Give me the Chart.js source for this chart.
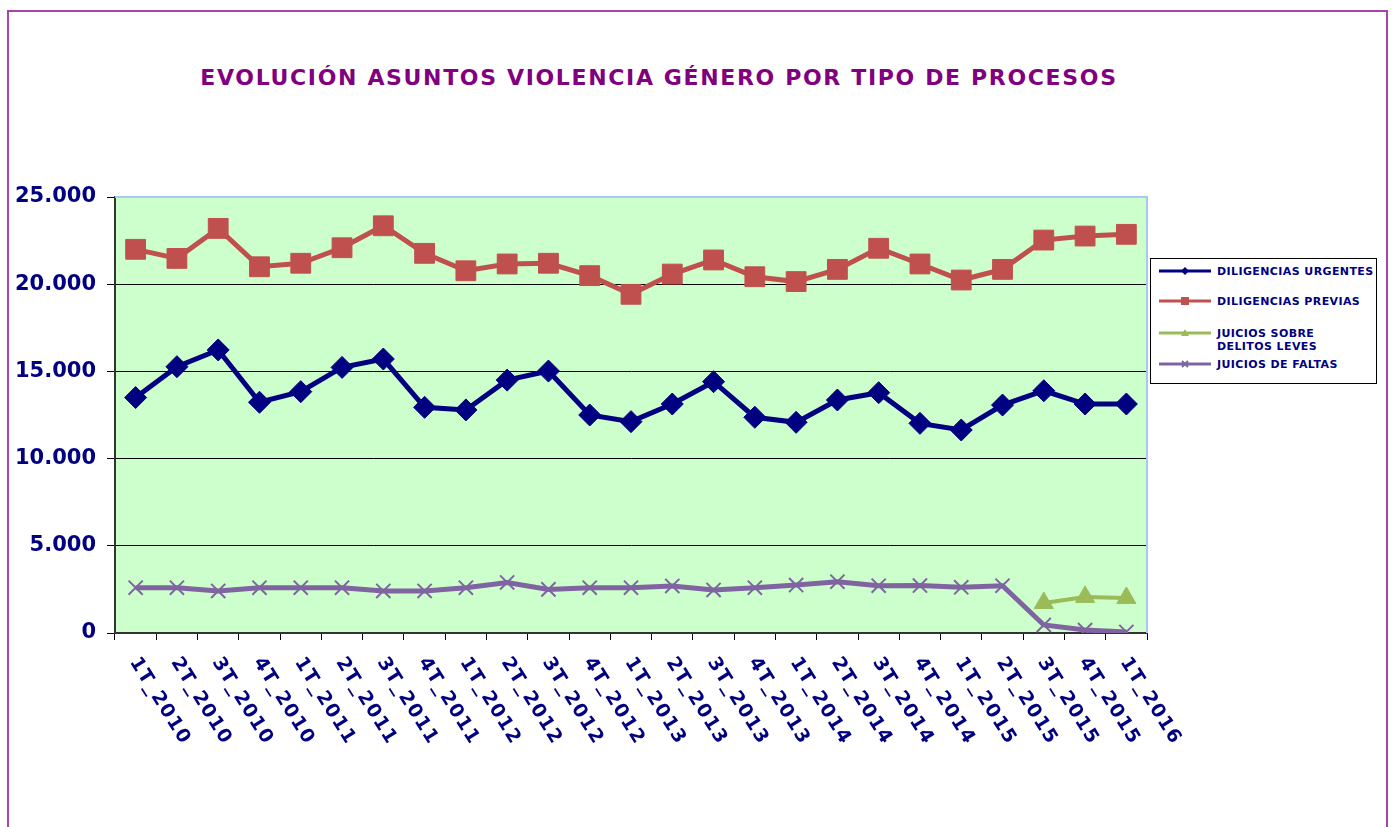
<!DOCTYPE html>
<html lang="es">
<head>
<meta charset="utf-8">
<title>Evolución asuntos violencia género</title>
<script src="https://cdn.jsdelivr.net/npm/chart.js@4.4.1/dist/chart.umd.min.js"></script>
<style>
    html, body { margin: 0; padding: 0; background: #fff; }
    body { width: 1392px; height: 827px; position: relative; overflow: hidden; font-family: 'DejaVu Sans', Verdana, sans-serif; }
    #frame { position: absolute; left: 7px; top: 10px; width: 1377px; height: 830px; border: 2px solid #a845a8; }
    #title { position: absolute; left: 0; width: 1318px; top: 65px; text-align: center; color: #800080; font-weight: bold; font-size: 22px; letter-spacing: 1.65px; }
    #chart { position: absolute; left: 0; top: 0; }
    #legend { position: absolute; left: 1150px; top: 258px; width: 225px; height: 124px; border: 1px solid #000; background: #fff; }
    .item { position: absolute; left: 8px; color: #000080; font-weight: bold; font-size: 11px; letter-spacing: 0.4px; line-height: 13px; }
    .item svg { position: absolute; left: 0; top: 0; }
    .item span { position: absolute; left: 58px; top: 0; white-space: nowrap; }
</style>
</head>
<body>
<div id="frame"></div>
<div id="title">EVOLUCIÓN ASUNTOS VIOLENCIA GÉNERO POR TIPO DE PROCESOS</div>
<canvas id="chart" width="1392" height="827"></canvas>
<div id="legend"></div>

<script>
// --- DATOS ---
const categories = [
    '1T_2010', '2T_2010', '3T_2010', '4T_2010',
    '1T_2011', '2T_2011', '3T_2011', '4T_2011',
    '1T_2012', '2T_2012', '3T_2012', '4T_2012',
    '1T_2013', '2T_2013', '3T_2013', '4T_2013',
    '1T_2014', '2T_2014', '3T_2014', '4T_2014',
    '1T_2015', '2T_2015', '3T_2015', '4T_2015',
    '1T_2016'
];

const diligenciasUrgentes = [
    13500, 15270, 16230, 13230, 13840, 15230, 15710, 12940,
    12790, 14500, 15020, 12500, 12120, 13130, 14410, 12370,
    12080, 13360, 13780, 12020, 11640, 13070, 13890, 13130, 13130
];

const diligenciasPrevias = [
    22000, 21480, 23200, 21000, 21200, 22090, 23350, 21770,
    20770, 21160, 21200, 20490, 19420, 20580, 21390, 20430,
    20150, 20850, 22060, 21160, 20240, 20850, 22530, 22760, 22860
];

const juiciosDelitosLeves = [
    null, null, null, null, null, null, null, null,
    null, null, null, null, null, null, null, null,
    null, null, null, null, null, null, 1720, 2070, 2010
];

const juiciosFaltas = [
    2600, 2600, 2410, 2600, 2600, 2600, 2410, 2410,
    2600, 2900, 2500, 2600, 2600, 2700, 2470, 2600,
    2750, 2940, 2710, 2720, 2620, 2710, 460, 170, 60
];

const yTicks = [0, 5000, 10000, 15000, 20000, 25000];

// --- SERIES ---
const series = [
    { label: 'DILIGENCIAS URGENTES', data: diligenciasUrgentes, color: '#000080', style: 'rectRot', radius: 11, width: 5 },
    { label: 'DILIGENCIAS PREVIAS', data: diligenciasPrevias, color: '#c0504d', style: 'rect', radius: 14, width: 5 },
    { label: 'JUICIOS SOBRE\nDELITOS LEVES', data: juiciosDelitosLeves, color: '#9bbb59', style: 'triangle', radius: 11, width: 4 },
    { label: 'JUICIOS DE FALTAS', data: juiciosFaltas, color: '#8064a2', style: 'crossRot', radius: 10, width: 5 }
];

const fmtMiles = (v) => String(v).replace(/\B(?=(\d{3})+(?!\d))/g, '.');

// fondo del área de trazado + borde superior/derecho
const plotBg = {
    id: 'plotBg',
    beforeDraw(chart) {
        const { ctx, chartArea: a } = chart;
        ctx.save();
        ctx.fillStyle = '#ccffcc';
        ctx.fillRect(a.left, a.top, a.right - a.left, a.bottom - a.top);
        ctx.restore();
    },
    beforeDatasetsDraw(chart) {
        const { ctx, chartArea: a } = chart;
        ctx.save();
        ctx.strokeStyle = '#a9c9f2';
        ctx.lineWidth = 2;
        ctx.beginPath();
        ctx.moveTo(a.left, a.top);
        ctx.lineTo(a.right, a.top);
        ctx.lineTo(a.right, a.bottom);
        ctx.stroke();
        ctx.restore();
    }
};

// etiquetas del eje X giradas hacia abajo a la derecha
const xLabels = {
    id: 'xLabels',
    afterDraw(chart) {
        const { ctx } = chart;
        const xs = chart.scales.x;
        const ang = 58 * Math.PI / 180;
        ctx.save();
        ctx.fillStyle = '#000080';
        ctx.font = 'bold 19px "DejaVu Sans", Verdana, sans-serif';
        ctx.letterSpacing = '1.5px';
        ctx.textAlign = 'left';
        ctx.textBaseline = 'top';
        categories.forEach((c, i) => {
            const x = xs.getPixelForValue(i);
            ctx.save();
            ctx.translate(x + 6, 654);
            ctx.rotate(ang);
            ctx.fillText(c, 0, 0);
            ctx.restore();
        });
        ctx.restore();
    }
};

new Chart(document.getElementById('chart'), {
    type: 'line',
    data: {
        labels: categories,
        datasets: series.map(s => ({
            label: s.label,
            data: s.data,
            borderColor: s.color,
            backgroundColor: s.color,
            borderWidth: s.width,
            pointStyle: s.style,
            pointRadius: s.radius,
            pointBorderWidth: s.style === 'crossRot' ? 2 : 1,
            pointBorderColor: s.color,
            pointBackgroundColor: s.color,
            tension: 0,
            spanGaps: false
        }))
    },
    options: {
        responsive: false,
        animation: false,
        devicePixelRatio: 1,
        layout: { padding: { top: 197, right: 245, bottom: 0, left: 0 } },
        plugins: {
            legend: { display: false },
            title: { display: false },
            tooltip: { enabled: false }
        },
        scales: {
            x: {
                offset: true,
                grid: {
                    offset: true,
                    drawOnChartArea: false,
                    tickLength: 7,
                    tickColor: '#000',
                    tickWidth: 1
                },
                border: { color: '#333', width: 2 },
                ticks: { display: false },
                afterFit: (scale) => { scale.height = 194; }
            },
            y: {
                min: 0,
                max: 25000,
                afterBuildTicks: (scale) => { scale.ticks = yTicks.map(v => ({ value: v })); },
                ticks: {
                    color: '#000080',
                    font: { family: '"DejaVu Sans", Verdana, sans-serif', size: 21, weight: 'bold' },
                    padding: 11,
                    callback: (v) => fmtMiles(v)
                },
                grid: {
                    color: (c) => (c.tick && (c.tick.value === 0 || c.tick.value === 25000)) ? 'rgba(0,0,0,0)' : '#000',
                    lineWidth: 1,
                    borderDash: [1, 2],
                    tickLength: 8,
                    tickColor: '#000',
                    tickBorderDash: []
                },
                border: { color: '#333', width: 2 },
                afterFit: (scale) => { scale.width = 115; }
            }
        }
    },
    plugins: [plotBg, xLabels]
});

// --- LEYENDA ---
const markerSvg = (s) => {
    const c = s.color;
    let m = '';
    if (s.style === 'rectRot') m = `<polygon points="26,2 30,6 26,10 22,6" fill="${c}"/>`;
    if (s.style === 'rect') m = `<rect x="22" y="2" width="8" height="8" fill="${c}"/>`;
    if (s.style === 'triangle') m = `<polygon points="26,2 30,9 22,9" fill="${c}"/>`;
    if (s.style === 'crossRot') m = `<path d="M23,3 L29,9 M29,3 L23,9" stroke="${c}" stroke-width="2"/>`;
    return `<svg width="52" height="12"><line x1="0" y1="6" x2="52" y2="6" stroke="${c}" stroke-width="3"/>${m}</svg>`;
};

const legendTops = [6, 36, 68, 99];
const legendEl = document.getElementById('legend');
series.forEach((s, i) => {
    const div = document.createElement('div');
    div.className = 'item';
    div.style.top = legendTops[i] + 'px';
    div.innerHTML = markerSvg(s) + '<span>' + s.label.replace('\n', '<br>') + '</span>';
    legendEl.appendChild(div);
});
</script>
</body>
</html>
